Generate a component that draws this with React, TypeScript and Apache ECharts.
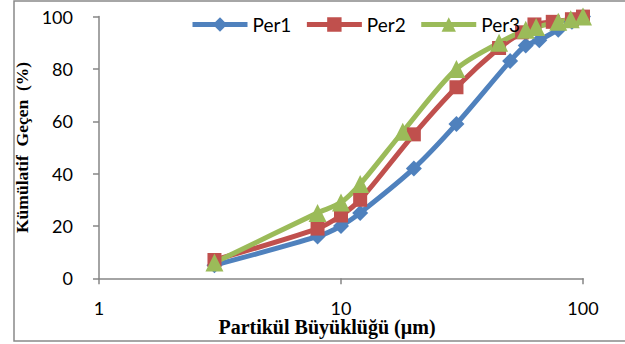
import React, { useEffect, useRef } from "react";
import * as echarts from "echarts";

const seriesNames = ["Per1", "Per2", "Per3"];
const per1X = [3, 8, 10, 12, 20, 30, 50, 58, 66, 79, 90, 100];
const per1Y = [5, 16, 20, 25, 42, 59, 83, 89, 91, 95, 98, 100];
const per2X = [3, 8, 10, 12, 20, 30, 45, 56, 63, 75, 90, 100];
const per2Y = [7, 19, 24, 30, 55, 73, 88, 94, 97, 98, 99, 100];
const per3X = [3, 8, 10, 12, 18, 30, 45, 58, 64, 79, 89, 100];
const per3Y = [6, 25, 29, 36, 56, 80, 90, 95, 96, 98, 99, 100];
const colors = ["#4F81BD", "#C0504D", "#9BBB59"];
const symbols = ["diamond", "rect", "triangle"];
const symbolSizes = [16, 14, 18];
const yTicks = { min: 0, max: 100, interval: 20 };
const xRange = { min: 1, max: 100 };

const zip = (xs: number[], ys: number[]) => xs.map((x, i) => [x, ys[i]]);

export default function App() {
  const ref = useRef<HTMLDivElement>(null);
  useEffect(() => {
    if (!ref.current) return;
    const chart = echarts.init(ref.current, undefined, { renderer: "svg" });
    const data = [zip(per1X, per1Y), zip(per2X, per2Y), zip(per3X, per3Y)];
    const axisColor = "#868686";
    chart.setOption({
      animation: false,
      grid: { left: 99, right: 42, top: 16.6, bottom: 65.7 },
      legend: {
        left: 185,
        top: 10,
        itemWidth: 55,
        itemHeight: 18,
        itemGap: 13,
        lineStyle: { width: 5 },
        textStyle: { fontFamily: "Lato", fontSize: 19, color: "#000" },
        data: seriesNames,
      },
      xAxis: {
        type: "log",
        logBase: 10,
        min: xRange.min,
        max: xRange.max,
        axisLine: { show: true, lineStyle: { color: axisColor, width: 1.5 } },
        axisTick: { show: true, inside: false, length: 6, lineStyle: { color: axisColor, width: 1.5 } },
        minorTick: { show: false },
        splitLine: { show: false },
        axisLabel: { fontFamily: "Lato", fontSize: 18, color: "#000", margin: 21 },
      },
      yAxis: {
        type: "value",
        min: yTicks.min,
        max: yTicks.max,
        interval: yTicks.interval,
        name: "Kümülatif  Geçen  (%)",
        nameLocation: "middle",
        nameGap: 63,
        nameTextStyle: { fontFamily: "Liberation Serif", fontWeight: "bold", fontSize: 17.5, color: "#000" },
        axisLine: { show: true, lineStyle: { color: axisColor, width: 1.5 } },
        axisTick: { show: true, length: 6, lineStyle: { color: axisColor, width: 1.5 } },
        splitLine: { show: false },
        axisLabel: { fontFamily: "Lato", fontSize: 18, color: "#000", margin: 26 },
      },
      graphic: [
        {
          type: "rect",
          shape: { x: 14, y: 1, width: 700, height: 340 },
          style: { fill: "none", stroke: "#898989", lineWidth: 1.5 },
          silent: true,
        },
        {
          type: "text",
          x: 327,
          y: 327,
          style: {
            text: "Partikül Büyüklüğü (µm)",
            fontFamily: "Liberation Serif",
            fontWeight: "bold",
            fontSize: 20,
            fill: "#000",
            textAlign: "center",
            textVerticalAlign: "middle",
          },
        },
      ],
      series: seriesNames.map((name, i) => ({
        name,
        type: "line",
        data: data[i],
        smooth: 0.3,
        clip: false,
        symbol: symbols[i],
        symbolSize: symbolSizes[i],
        showAllSymbol: true,
        itemStyle: { color: colors[i] },
        lineStyle: { color: colors[i], width: 5 },
      })),
    });
    return () => chart.dispose();
  }, []);
  return (
    <div
      ref={ref}
      style={{ position: "fixed", left: 0, top: 0, width: 625, height: 344, background: "#fff" }}
    />
  );
}
